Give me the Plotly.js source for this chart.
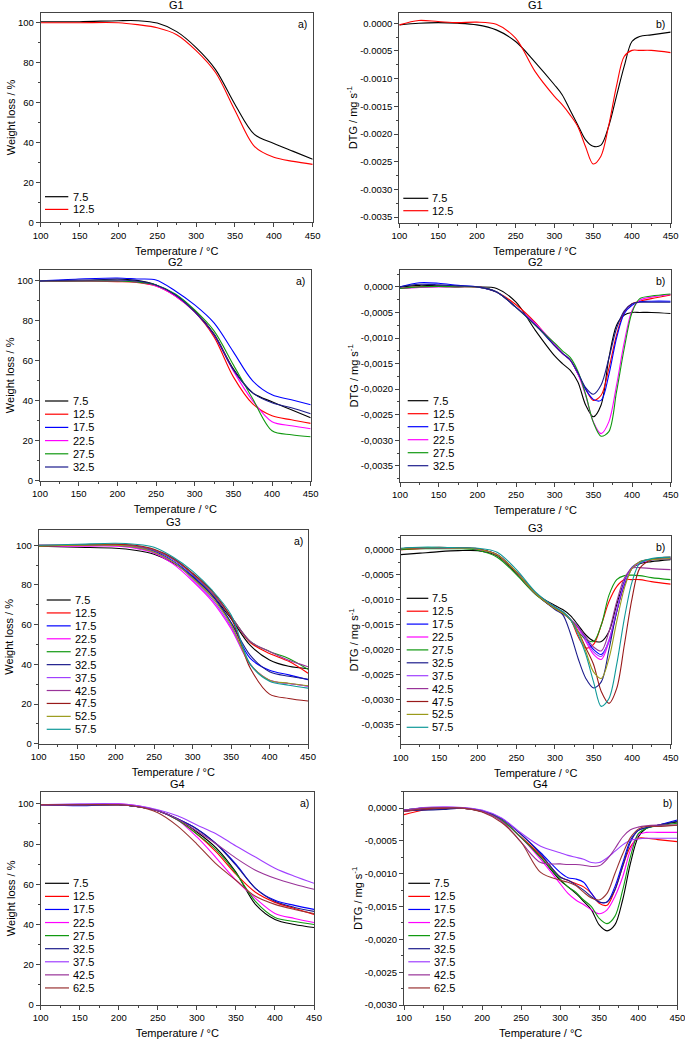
<!DOCTYPE html>
<html lang="en">
<head>
<meta charset="UTF-8">
<title>TG / DTG</title>
<script src="https://cdn.plot.ly/plotly-3.0.1.min.js"></script>
<style>
  body { margin: 0; background: #fff; }
  #myDiv { width: 685px; height: 1039px; }
</style>
</head>
<body>
<div id="myDiv"></div>
<script>
// temperature grids (°C) the curves were read at
var tTG  = [100,150,200,225,250,275,300,325,350,375,400,425,450];
var tDTG = [100,125,150,175,200,225,250,275,300,310,320,330,340,350,360,370,380,390,400,410,425,450];

// legend labels per group
var rates1 = ['7.5','12.5'];
var rates2 = ['7.5','12.5','17.5','22.5','27.5','32.5'];
var rates3 = ['7.5','12.5','17.5','22.5','27.5','32.5','37.5','42.5','47.5','52.5','57.5'];
var rates4 = ['7.5','12.5','17.5','22.5','27.5','32.5','37.5','42.5','62.5'];

var colors = {'7.5':'#000000','12.5':'#ff0000','17.5':'#0000ff','22.5':'#ff00ff','27.5':'#119911',
  '32.5':'#1c1c8c','37.5':'#a040ff','42.5':'#993399','47.5':'#991a1a','52.5':'#9a9a1a','57.5':'#109999','62.5':'#993333'};

// weight loss (%) at tTG
var g1TG = [
  [100.5,100.5,101,101,99.8,95.5,87.5,76.5,59,44,39.5,35.5,31.5],
  [100,100,100,99,97.5,94,86,75,56,38,32.5,30.5,29]
];
var g2TG = [
  [100,100,101,100.3,98,93,85,73.5,56,44,39.5,35.5,31.5],
  [100,100,99.7,99.3,97.5,92.5,84.5,72,52,38.5,32.5,30.5,28.7],
  [100,101,101.5,101,100.5,95,88,79,64.5,50,43,40.5,38],
  [100,100,100,99.5,97.5,92.5,84.5,73,55,40,29.5,27.5,26],
  [100,100,100,99.5,98,93.5,85.5,75,58,41,25,23,22],
  [100,100.5,100.5,100,98,93,84.5,73,55.5,44,39,36.5,33.5]
];
var g3TG = [
  [99.5,99,98.5,97.5,95.5,91,84,75,63,49.5,42.2,39,37.8],
  [100,100,100.5,99.5,97.5,93,85.5,76,64,51,45.5,41.5,35.5],
  [99.5,100,100,99,97,92,84.5,75,61,43,37,34.7,32.3],
  [99.5,99.5,99.5,98.5,96,90.5,82,72,58,40,32,30.3,29],
  [99.5,100,100,99.5,97.5,93,85.5,76,64,51.5,46.5,43,37.5],
  [99.5,100,100,99,96.5,91.5,84,75,61,44.5,36.3,34,32.5],
  [100,100,100,99,96.5,91.5,83,73,59,40,32,30.3,29],
  [100,100,100,99.5,97.5,93,85.5,76,64,51.5,46.5,42,38.8],
  [99.5,100,100.5,100,98,93.5,86,77,63.5,38,25,22.8,21.5],
  [99.5,100,100,99,96.5,91.5,83.5,74,60,40,32,30.5,29.2],
  [100,100.5,101,100.5,99,94,87,77.5,65,40,31.5,29.5,28]
];
var g4TG = [
  [99.5,99.5,99.5,98.5,96.5,92.5,86,78,66,50,42.5,40,38.5],
  [99.5,99.5,99.5,98.5,96.5,92,85,76,65,56,51,48,45],
  [99.5,99,99.5,98.5,96.5,92.5,87.5,80,70,58,52,49.5,47.5],
  [99.5,99.5,100,99,96.5,92,83.5,73,62,53,45.5,43,41],
  [99.5,99.5,99.5,98.5,96.5,92,85,77,65.5,51.5,43.5,41.5,40],
  [99.5,99.5,99.5,98.5,96.5,92.5,87.5,80,69.5,58,51.5,48.5,46.5],
  [99.5,100,100,99,97,94,89.5,85,79,73.5,68,64,60.5],
  [99.5,99.5,99.5,98.5,96.5,92.5,86.5,80,73,67,63,60,57.5],
  [99.5,99.5,99.5,98.5,95.5,89,80,70,62,54,50,47.5,45.5]
];

// DTG (mg s-1) at tDTG
var g1DTG = [
  [-0.00003,0,0.00001,0,-0.00003,-0.00012,-0.00033,-0.0007,-0.00111,-0.00129,-0.00156,-0.00183,-0.0021,-0.00222,-0.0022,-0.00186,-0.00132,-0.00078,-0.00033,-0.00024,-0.00021,-0.00016],
  [-0.00003,0.00005,0.00003,0.00001,0.00002,-0.00002,-0.00027,-0.00087,-0.00132,-0.00147,-0.00165,-0.00186,-0.00222,-0.00254,-0.0024,-0.00185,-0.00114,-0.0006,-0.00049,-0.00049,-0.00049,-0.00053]
];
var g2DTG = [
  [0,0.00003,0.00002,0.00001,0,-0.00003,-0.0003,-0.00085,-0.00135,-0.0015,-0.00163,-0.00186,-0.00231,-0.00254,-0.00231,-0.0014,-0.00075,-0.00055,-0.0005,-0.0005,-0.0005,-0.00052],
  [-0.00003,0,0.00001,0,0,-0.0001,-0.00035,-0.0007,-0.00115,-0.0013,-0.00143,-0.0017,-0.002,-0.00222,-0.00212,-0.0016,-0.00094,-0.00049,-0.00033,-0.00028,-0.00023,-0.00016],
  [0,0.00008,0.00007,0.00003,0,-0.0001,-0.0004,-0.00072,-0.00115,-0.0013,-0.00143,-0.0017,-0.002,-0.0022,-0.00222,-0.00172,-0.001,-0.00052,-0.00036,-0.00029,-0.00028,-0.00028],
  [-0.00003,-0.00001,0,0,0,-0.0001,-0.0004,-0.00072,-0.00112,-0.0013,-0.00143,-0.0017,-0.00212,-0.00264,-0.00287,-0.00264,-0.00192,-0.00108,-0.00046,-0.00026,-0.0002,-0.00015],
  [-0.00003,0,0.00001,0,0,-0.0001,-0.0004,-0.00075,-0.0011,-0.00125,-0.00138,-0.00165,-0.0021,-0.00265,-0.00292,-0.00283,-0.00205,-0.0012,-0.0005,-0.00023,-0.00018,-0.00014],
  [0,0.00005,0.00004,0.00002,0,-0.0001,-0.0004,-0.00075,-0.00115,-0.0013,-0.00143,-0.00168,-0.00197,-0.0021,-0.00192,-0.0014,-0.00081,-0.00047,-0.00033,-0.0003,-0.0003,-0.0003]
];
var g3DTG = [
  [-0.0001,-0.00007,-0.00004,-0.00002,-0.00002,-0.00012,-0.00048,-0.00088,-0.00112,-0.0012,-0.00132,-0.00151,-0.00171,-0.00183,-0.00184,-0.00164,-0.0011,-0.00064,-0.00037,-0.00028,-0.00024,-0.0002],
  [0,0.00002,0.00003,0.00004,0.00001,-0.0001,-0.00045,-0.00088,-0.00118,-0.00127,-0.0014,-0.00174,-0.00197,-0.0019,-0.00151,-0.00104,-0.00074,-0.0006,-0.0006,-0.0006,-0.00064,-0.00069],
  [0.00002,0.00004,0.00004,0.00003,0.00001,-0.0001,-0.00045,-0.00088,-0.00118,-0.00127,-0.0014,-0.00155,-0.00178,-0.002,-0.0021,-0.00184,-0.00124,-0.00064,-0.00035,-0.00026,-0.0002,-0.00018],
  [0.00002,0.00004,0.00004,0.00003,0.00001,-0.0001,-0.00045,-0.00088,-0.00118,-0.00127,-0.0014,-0.00158,-0.00184,-0.0021,-0.0022,-0.00184,-0.00124,-0.0007,-0.00037,-0.00026,-0.0002,-0.00017],
  [0,0.00002,0.00002,0.00002,-0.00001,-0.00015,-0.0005,-0.0009,-0.00118,-0.00127,-0.0014,-0.00164,-0.0018,-0.00184,-0.00151,-0.00091,-0.0006,-0.00052,-0.00051,-0.00052,-0.00056,-0.0006],
  [0.00002,0.00004,0.00004,0.00003,0.00001,-0.0001,-0.00045,-0.00088,-0.0012,-0.0013,-0.00168,-0.00218,-0.00258,-0.00277,-0.00265,-0.002,-0.00124,-0.0007,-0.00037,-0.00024,-0.0002,-0.00018],
  [0.00002,0.00004,0.00004,0.00003,0.00001,-0.0001,-0.00045,-0.00088,-0.00115,-0.00125,-0.0014,-0.00156,-0.0018,-0.00205,-0.00214,-0.0018,-0.0012,-0.00066,-0.00036,-0.00026,-0.0002,-0.00018],
  [0.00002,0.00004,0.00004,0.00003,0.00001,-0.0001,-0.00045,-0.00088,-0.00115,-0.00125,-0.0014,-0.00155,-0.00175,-0.00195,-0.00203,-0.00164,-0.00104,-0.00057,-0.00037,-0.00036,-0.00038,-0.0004],
  [0.00002,0.00004,0.00005,0.00004,0.00002,-0.0001,-0.00045,-0.00088,-0.00118,-0.00127,-0.0014,-0.00164,-0.00197,-0.0023,-0.00284,-0.00308,-0.00278,-0.0019,-0.00097,-0.00037,-0.0002,-0.00015],
  [0.00002,0.00004,0.00004,0.00003,0.00001,-0.0001,-0.00045,-0.00088,-0.00118,-0.00127,-0.0014,-0.00164,-0.00204,-0.00245,-0.00258,-0.00218,-0.00144,-0.00077,-0.00037,-0.00024,-0.0002,-0.00018],
  [0.00003,0.00005,0.00005,0.00004,0.00003,-0.00005,-0.0004,-0.00085,-0.00115,-0.00124,-0.0014,-0.0017,-0.0021,-0.00265,-0.00314,-0.00298,-0.0023,-0.00137,-0.00064,-0.00027,-0.00018,-0.00015]
];
var g4DTG = [
  [-0.00005,-0.00002,0,0,-0.00005,-0.00018,-0.00045,-0.00075,-0.0011,-0.0012,-0.0013,-0.00142,-0.00155,-0.00178,-0.00187,-0.00178,-0.0014,-0.00084,-0.00044,-0.00031,-0.00026,-0.00021],
  [-0.0001,-0.00003,0,0,-0.00005,-0.00018,-0.00044,-0.00072,-0.00105,-0.0011,-0.00115,-0.0012,-0.0013,-0.00145,-0.00148,-0.00125,-0.00089,-0.00059,-0.00046,-0.00046,-0.00048,-0.00051],
  [-0.00003,0,0.00001,0,-0.00004,-0.00016,-0.0004,-0.00068,-0.00098,-0.00106,-0.00108,-0.00113,-0.0013,-0.00143,-0.00143,-0.0012,-0.00084,-0.00049,-0.00034,-0.0003,-0.00026,-0.00018],
  [-0.00005,-0.00001,0.00001,0,-0.00005,-0.00018,-0.00045,-0.00078,-0.00115,-0.0013,-0.0014,-0.00147,-0.00155,-0.00161,-0.00155,-0.00135,-0.00105,-0.00064,-0.00041,-0.00037,-0.00037,-0.00037],
  [-0.00003,0,0.00001,0,-0.00005,-0.00018,-0.00045,-0.00075,-0.00108,-0.0012,-0.00128,-0.0014,-0.0015,-0.00168,-0.00176,-0.00165,-0.00125,-0.00074,-0.00039,-0.00031,-0.00027,-0.00023],
  [-0.00003,-0.00003,-0.00002,0,-0.00004,-0.00016,-0.0004,-0.0007,-0.00105,-0.0011,-0.00117,-0.00125,-0.00135,-0.00143,-0.00143,-0.00125,-0.00089,-0.00052,-0.00034,-0.0003,-0.00026,-0.0002],
  [-0.00003,0.00001,0.00002,0.00001,-0.00003,-0.00015,-0.00038,-0.00058,-0.00068,-0.00072,-0.00075,-0.00078,-0.00083,-0.00083,-0.00076,-0.00066,-0.00056,-0.00049,-0.00047,-0.00046,-0.00046,-0.00046],
  [-0.00003,0,0.00001,0,-0.00005,-0.0002,-0.00052,-0.00083,-0.00085,-0.00086,-0.00086,-0.00087,-0.00089,-0.00088,-0.00078,-0.00062,-0.00044,-0.00033,-0.00029,-0.00027,-0.00026,-0.00026],
  [-0.00005,-0.00001,0,0,-0.00006,-0.00022,-0.00052,-0.00098,-0.0011,-0.00113,-0.00118,-0.00128,-0.00137,-0.0014,-0.0013,-0.001,-0.0007,-0.00045,-0.00032,-0.00028,-0.00028,-0.00026]
];

// tick labels
var xTicks = [100,150,200,250,300,350,400,450];
var tgTicks = [0,20,40,60,80,100];
var dtgTicks = [0,-0.0005,-0.001,-0.0015,-0.002,-0.0025,-0.003,-0.0035];

var W = 685, H = 1039;
function fx(p) { return p / W; }
function fy(p) { return 1 - p / H; }

// box = [left, right, top, bottom] in px; leg = [line x0, line x1, text x, first y, row step]
var panels = [
  {title:'G1', tag:'a)', kind:'tg',  rates:rates1, ys:g1TG,  box:[40.7,312.7,12.7,222.2],  yr:[0,105],            leg:[45,68.3,70.7,196.7,12.7]},
  {title:'G1', tag:'b)', kind:'dtg', rates:rates1, ys:g1DTG, box:[399.3,670.7,12.7,222.7], yr:[-0.0036,0.00019],  leg:[403.3,428.3,430,198.3,12.4], sep:'.'},
  {title:'G2', tag:'a)', kind:'tg',  rates:rates2, ys:g2TG,  box:[40,310.7,270,480.7],     yr:[0,105.5],          leg:[45,68.3,71,401,13.2]},
  {title:'G2', tag:'b)', kind:'dtg', rates:rates2, ys:g2DTG, box:[400,670.7,270,481.7],    yr:[-0.00381,0.00033], leg:[407.7,428.3,431,400.7,13.0], sep:','},
  {title:'G3', tag:'a)', kind:'tg',  rates:rates3, ys:g3TG,  box:[38.7,308,530,743.7],     yr:[0,107.7],          leg:[46.7,70.7,72.7,600,12.93]},
  {title:'G3', tag:'b)', kind:'dtg', rates:rates3, ys:g3DTG, box:[400.7,670.7,535.7,744.3],yr:[-0.0039,0.00028],  leg:[406.7,428.3,430,598.3,12.9], sep:','},
  {title:'G4', tag:'a)', kind:'tg',  rates:rates4, ys:g4TG,  box:[40.7,314,791.7,1005],    yr:[0,106],            leg:[45,69,71,883.3,13.08]},
  {title:'G4', tag:'b)', kind:'dtg', rates:rates4, ys:g4DTG, box:[404,677.3,791.7,1005],   yr:[-0.003,0.00025],   leg:[408.3,430,432,883.3,13.08], sep:','}
];

var data = [];
var layout = {
  width: W, height: H,
  margin: {l:0, r:0, t:0, b:0},
  paper_bgcolor: '#fff', plot_bgcolor: '#fff',
  showlegend: false,
  font: {family: 'Liberation Sans, Arial, sans-serif', size: 9.5, color: '#000'},
  annotations: [], shapes: []
};

panels.forEach(function(p, i) {
  var n = i + 1, s = n > 1 ? String(n) : '';
  var xr = 'x' + s, yr = 'y' + s;
  var t = p.kind === 'tg' ? tTG : tDTG;

  p.ys.forEach(function(y, k) {
    data.push({
      x: t, y: y, type: 'scatter', mode: 'lines', xaxis: xr, yaxis: yr,
      name: p.rates[k], showlegend: false, hoverinfo: 'skip',
      line: {color: colors[p.rates[k]], width: 1.1, shape: 'spline', smoothing: 0.9}
    });
  });

  layout['xaxis' + s] = {
    domain: [fx(p.box[0]), fx(p.box[1])], range: [100, 450], anchor: yr,
    tickvals: xTicks, ticks: 'outside', ticklen: 4, tickcolor: '#444',
    ticklabeloverflow: 'allow',
    minor: {tick0: 100, dtick: 25, ticks: 'outside', ticklen: 2, tickcolor: '#444'},
    showline: true, mirror: true, linecolor: '#444', linewidth: 1,
    showgrid: false, zeroline: false,
    title: {text: 'Temperature / °C', font: {size: 11}, standoff: 7}
  };

  var ya = {
    domain: [fy(p.box[3]), fy(p.box[2])], range: p.yr, anchor: xr,
    ticks: 'outside', ticklen: 4, tickcolor: '#444',
    showline: true, mirror: true, linecolor: '#444', linewidth: 1,
    showgrid: false, zeroline: false
  };
  if (p.kind === 'tg') {
    ya.tickvals = tgTicks;
    ya.minor = {tick0: 0, dtick: 10, ticks: 'outside', ticklen: 2, tickcolor: '#444'};
    ya.title = {text: 'Weight loss / %', font: {size: 11}, standoff: 0};
  } else {
    var tv = dtgTicks.filter(function(v) { return v >= p.yr[0]; });
    ya.tickvals = tv;
    ya.ticktext = tv.map(function(v) { return v.toFixed(4).replace('.', p.sep); });
    ya.minor = {tick0: 0, dtick: 0.00025, ticks: 'outside', ticklen: 2, tickcolor: '#444'};
    ya.title = {text: 'DTG / mg s<sup>-1</sup>', font: {size: 11}, standoff: 0};
  }
  layout['yaxis' + s] = ya;

  // panel title and tag
  layout.annotations.push({
    text: p.title, xref: xr + ' domain', yref: yr + ' domain', x: 0.5, y: 1,
    xanchor: 'center', yanchor: 'bottom', showarrow: false, font: {size: 11}
  });
  layout.annotations.push({
    text: p.tag, xref: xr + ' domain', yref: yr + ' domain', x: 0.988, y: 1,
    xanchor: 'right', yanchor: 'top', yshift: -3, showarrow: false, font: {size: 10.5}
  });

  // legend drawn inside the frame
  p.rates.forEach(function(r, k) {
    var yy = fy(p.leg[3] + k * p.leg[4]);
    layout.shapes.push({
      type: 'line', xref: 'paper', yref: 'paper',
      x0: fx(p.leg[0]), x1: fx(p.leg[1]), y0: yy, y1: yy,
      line: {color: colors[r], width: 1.2}
    });
    layout.annotations.push({
      text: r, xref: 'paper', yref: 'paper', x: fx(p.leg[2]), y: yy,
      xanchor: 'left', yanchor: 'middle', showarrow: false, font: {size: 11}
    });
  });
});

Plotly.newPlot('myDiv', data, layout, {displayModeBar: false, staticPlot: true});
</script>
</body>
</html>
